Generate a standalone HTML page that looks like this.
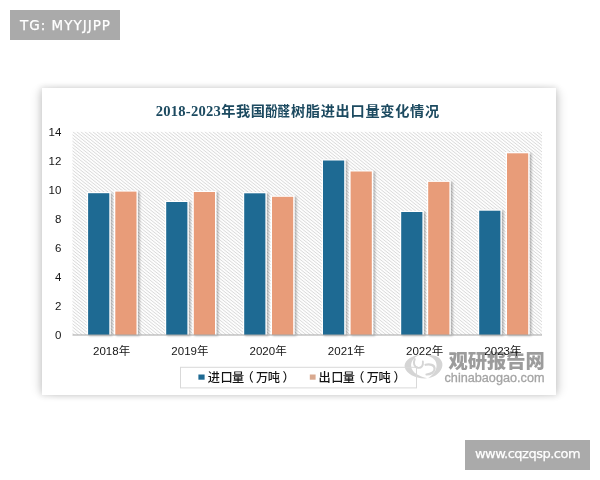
<!DOCTYPE html>
<html lang="zh-CN">
<head>
<meta charset="utf-8">
<title>2018-2023年我国酚醛树脂进出口量变化情况</title>
<style>
html,body{margin:0;padding:0;background:#fff;}
body{width:600px;height:480px;overflow:hidden;position:relative;font-family:"Liberation Sans","Noto Sans CJK SC",sans-serif;}
svg{position:absolute;left:0;top:0;display:block;}
.tag{position:absolute;background:#aaaaaa;color:#fff;font-family:"DejaVu Sans","Liberation Sans",sans-serif;white-space:nowrap;}
#tg{left:10px;top:10px;width:110px;height:30px;line-height:30px;text-align:center;font-size:13.5px;letter-spacing:1px;text-indent:1px;-webkit-text-stroke:0.25px #fff;}
#www{left:465px;top:440px;width:125px;height:30px;line-height:27.5px;text-align:center;font-size:13px;letter-spacing:-0.5px;-webkit-text-stroke:0.25px #fff;}
#card{position:absolute;left:41.5px;top:87.5px;width:514.5px;height:307px;background:#fff;box-shadow:0 0 6px 1px rgba(0,0,0,0.13),-7px 0 9px -3px rgba(0,0,0,0.10),7px 1px 9px -3px rgba(0,0,0,0.11);}
</style>
</head>
<body>
<div class="tag" id="tg">TG: MYYJJPP</div>
<div id="card"></div>
<svg width="600" height="480" viewBox="0 0 600 480">
<defs>
<filter id="sh" x="-30%" y="-10%" width="180%" height="120%">
<feGaussianBlur in="SourceAlpha" stdDeviation="0.9"/>
<feOffset dx="2.4" dy="0.6"/>
<feComponentTransfer><feFuncA type="linear" slope="0.28"/></feComponentTransfer>
<feMerge><feMergeNode/><feMergeNode in="SourceGraphic"/></feMerge>
</filter>
</defs>
<clipPath id="pc"><rect x="72.5" y="131.8" width="469.5" height="203.2"/></clipPath>
<rect x="72.5" y="131.8" width="469.5" height="203.2" fill="#fdfdfd"/>
<path clip-path="url(#pc)" d="M-183.51 131.5L70.50 335M-179.51 131.5L74.50 335M-175.51 131.5L78.50 335M-171.51 131.5L82.50 335M-167.51 131.5L86.50 335M-163.51 131.5L90.50 335M-159.51 131.5L94.50 335M-155.51 131.5L98.50 335M-151.51 131.5L102.50 335M-147.51 131.5L106.50 335M-143.51 131.5L110.50 335M-139.51 131.5L114.50 335M-135.51 131.5L118.50 335M-131.51 131.5L122.50 335M-127.51 131.5L126.50 335M-123.51 131.5L130.50 335M-119.51 131.5L134.50 335M-115.51 131.5L138.50 335M-111.51 131.5L142.50 335M-107.51 131.5L146.50 335M-103.51 131.5L150.50 335M-99.51 131.5L154.50 335M-95.51 131.5L158.50 335M-91.51 131.5L162.50 335M-87.51 131.5L166.50 335M-83.51 131.5L170.50 335M-79.51 131.5L174.50 335M-75.51 131.5L178.50 335M-71.51 131.5L182.50 335M-67.51 131.5L186.50 335M-63.51 131.5L190.50 335M-59.51 131.5L194.50 335M-55.51 131.5L198.50 335M-51.51 131.5L202.50 335M-47.51 131.5L206.50 335M-43.51 131.5L210.50 335M-39.51 131.5L214.50 335M-35.51 131.5L218.50 335M-31.51 131.5L222.50 335M-27.51 131.5L226.50 335M-23.51 131.5L230.50 335M-19.51 131.5L234.50 335M-15.51 131.5L238.50 335M-11.51 131.5L242.50 335M-7.51 131.5L246.50 335M-3.51 131.5L250.50 335M0.49 131.5L254.50 335M4.49 131.5L258.50 335M8.49 131.5L262.50 335M12.49 131.5L266.50 335M16.49 131.5L270.50 335M20.49 131.5L274.50 335M24.49 131.5L278.50 335M28.49 131.5L282.50 335M32.49 131.5L286.50 335M36.49 131.5L290.50 335M40.49 131.5L294.50 335M44.49 131.5L298.50 335M48.49 131.5L302.50 335M52.49 131.5L306.50 335M56.49 131.5L310.50 335M60.49 131.5L314.50 335M64.49 131.5L318.50 335M68.49 131.5L322.50 335M72.49 131.5L326.50 335M76.49 131.5L330.50 335M80.49 131.5L334.50 335M84.49 131.5L338.50 335M88.49 131.5L342.50 335M92.49 131.5L346.50 335M96.49 131.5L350.50 335M100.49 131.5L354.50 335M104.49 131.5L358.50 335M108.49 131.5L362.50 335M112.49 131.5L366.50 335M116.49 131.5L370.50 335M120.49 131.5L374.50 335M124.49 131.5L378.50 335M128.49 131.5L382.50 335M132.49 131.5L386.50 335M136.49 131.5L390.50 335M140.49 131.5L394.50 335M144.49 131.5L398.50 335M148.49 131.5L402.50 335M152.49 131.5L406.50 335M156.49 131.5L410.50 335M160.49 131.5L414.50 335M164.49 131.5L418.50 335M168.49 131.5L422.50 335M172.49 131.5L426.50 335M176.49 131.5L430.50 335M180.49 131.5L434.50 335M184.49 131.5L438.50 335M188.49 131.5L442.50 335M192.49 131.5L446.50 335M196.49 131.5L450.50 335M200.49 131.5L454.50 335M204.49 131.5L458.50 335M208.49 131.5L462.50 335M212.49 131.5L466.50 335M216.49 131.5L470.50 335M220.49 131.5L474.50 335M224.49 131.5L478.50 335M228.49 131.5L482.50 335M232.49 131.5L486.50 335M236.49 131.5L490.50 335M240.49 131.5L494.50 335M244.49 131.5L498.50 335M248.49 131.5L502.50 335M252.49 131.5L506.50 335M256.49 131.5L510.50 335M260.49 131.5L514.50 335M264.49 131.5L518.50 335M268.49 131.5L522.50 335M272.49 131.5L526.50 335M276.49 131.5L530.50 335M280.49 131.5L534.50 335M284.49 131.5L538.50 335M288.49 131.5L542.50 335M292.49 131.5L546.50 335M296.49 131.5L550.50 335M300.49 131.5L554.50 335M304.49 131.5L558.50 335M308.49 131.5L562.50 335M312.49 131.5L566.50 335M316.49 131.5L570.50 335M320.49 131.5L574.50 335M324.49 131.5L578.50 335M328.49 131.5L582.50 335M332.49 131.5L586.50 335M336.49 131.5L590.50 335M340.49 131.5L594.50 335M344.49 131.5L598.50 335M348.49 131.5L602.50 335M352.49 131.5L606.50 335M356.49 131.5L610.50 335M360.49 131.5L614.50 335M364.49 131.5L618.50 335M368.49 131.5L622.50 335M372.49 131.5L626.50 335M376.49 131.5L630.50 335M380.49 131.5L634.50 335M384.49 131.5L638.50 335M388.49 131.5L642.50 335M392.49 131.5L646.50 335M396.49 131.5L650.50 335M400.49 131.5L654.50 335M404.49 131.5L658.50 335M408.49 131.5L662.50 335M412.49 131.5L666.50 335M416.49 131.5L670.50 335M420.49 131.5L674.50 335M424.49 131.5L678.50 335M428.49 131.5L682.50 335M432.49 131.5L686.50 335M436.49 131.5L690.50 335M440.49 131.5L694.50 335M444.49 131.5L698.50 335M448.49 131.5L702.50 335M452.49 131.5L706.50 335M456.49 131.5L710.50 335M460.49 131.5L714.50 335M464.49 131.5L718.50 335M468.49 131.5L722.50 335M472.49 131.5L726.50 335M476.49 131.5L730.50 335M480.49 131.5L734.50 335M484.49 131.5L738.50 335M488.49 131.5L742.50 335M492.49 131.5L746.50 335M496.49 131.5L750.50 335M500.49 131.5L754.50 335M504.49 131.5L758.50 335M508.49 131.5L762.50 335M512.49 131.5L766.50 335M516.49 131.5L770.50 335M520.49 131.5L774.50 335M524.49 131.5L778.50 335M528.49 131.5L782.50 335M532.49 131.5L786.50 335M536.49 131.5L790.50 335M540.49 131.5L794.50 335" fill="none" stroke="#d8d8d8" stroke-width="0.95"/>
<g fill="#d5d5d5">
<path d="M419.5 354.8 C409 356.5 403.5 362 404.8 367.5 C406.5 374 416 379.2 427.5 378.3 C419 376.5 411.8 372.5 411.2 366.5 C410.6 361 414.5 357.3 419.5 354.8Z"/>
<path d="M426.5 355.2 C437 354.3 443 359.5 442.4 365.5 C441.8 371.5 436 376.8 428 378.3 C433 375 436.6 370.5 436.6 365.5 C436.6 360.5 433 357 426.5 355.2Z"/>
</g>
<g fill="none" stroke="#d5d5d5" stroke-linecap="round">
<path d="M414.8 359 C413 363 414 367 418 367.8 C421.5 368.3 423.4 365.5 422.9 361.5" stroke-width="1.9"/>
<path d="M425.5 364.8 C430 363.5 434.5 365 434.6 368.6 C434.7 372 431 374.3 426.5 374.5" stroke-width="2.2"/>
</g>
<text x="448.4" y="368.2" font-size="19.4" font-weight="900" fill="#9c9c9c" font-family="'Liberation Sans','Noto Sans CJK SC',sans-serif" textLength="96.3" lengthAdjust="spacingAndGlyphs">观研报告网</text>
<text x="444.5" y="382" font-size="13" fill="#a4a4a4" stroke="#a4a4a4" stroke-width="0.3" font-family="'Liberation Sans',sans-serif" textLength="100" lengthAdjust="spacingAndGlyphs">chinabaogao.com</text>
<text y="115.6" font-size="14.2" font-weight="bold" fill="#1c4a60" font-family="'Liberation Sans','Noto Sans CJK SC',sans-serif"><tspan x="155.8" y="116" font-size="14.6" font-family="'Liberation Serif',serif" textLength="65" lengthAdjust="spacing">2018-2023</tspan><tspan x="221.2 236 250.8" y="115.6">年我国</tspan><tspan x="265.3" textLength="24.6" lengthAdjust="spacingAndGlyphs">酚醛</tspan><tspan x="290.9 305.8 320.7 335.6 350.5 365.4 380.3 395.2 410.1 425.0">树脂进出口量变化情况</tspan></text>
<text x="61.3" y="339.0" font-size="11.5" text-anchor="end" fill="#151515" font-family="'Liberation Sans',sans-serif">0</text>
<text x="61.3" y="309.9" font-size="11.5" text-anchor="end" fill="#151515" font-family="'Liberation Sans',sans-serif">2</text>
<text x="61.3" y="280.9" font-size="11.5" text-anchor="end" fill="#151515" font-family="'Liberation Sans',sans-serif">4</text>
<text x="61.3" y="251.8" font-size="11.5" text-anchor="end" fill="#151515" font-family="'Liberation Sans',sans-serif">6</text>
<text x="61.3" y="222.7" font-size="11.5" text-anchor="end" fill="#151515" font-family="'Liberation Sans',sans-serif">8</text>
<text x="61.3" y="193.6" font-size="11.5" text-anchor="end" fill="#151515" font-family="'Liberation Sans',sans-serif">10</text>
<text x="61.3" y="164.6" font-size="11.5" text-anchor="end" fill="#151515" font-family="'Liberation Sans',sans-serif">12</text>
<text x="61.3" y="135.5" font-size="11.5" text-anchor="end" fill="#151515" font-family="'Liberation Sans',sans-serif">14</text>
<g filter="url(#sh)" fill="#fff">
<rect x="86.8" y="192.0" width="23.8" height="143.0"/>
<rect x="114.0" y="190.4" width="23.8" height="144.6"/>
<rect x="164.9" y="200.8" width="23.8" height="134.2"/>
<rect x="192.5" y="190.8" width="23.8" height="144.2"/>
<rect x="242.9" y="192.1" width="23.8" height="142.9"/>
<rect x="270.7" y="195.6" width="23.8" height="139.4"/>
<rect x="321.7" y="159.3" width="23.8" height="175.7"/>
<rect x="349.3" y="170.3" width="23.8" height="164.7"/>
<rect x="399.9" y="210.8" width="23.8" height="124.2"/>
<rect x="426.9" y="180.7" width="23.8" height="154.3"/>
<rect x="477.9" y="209.5" width="23.8" height="125.5"/>
<rect x="505.7" y="152.1" width="23.8" height="182.9"/>
</g>
<rect x="88.1" y="193.2" width="21.2" height="141.8" fill="#1e6a93"/>
<rect x="115.3" y="191.6" width="21.2" height="143.4" fill="#e89c79"/>
<rect x="166.2" y="202.0" width="21.2" height="133.0" fill="#1e6a93"/>
<rect x="193.8" y="192.0" width="21.2" height="143.0" fill="#e89c79"/>
<rect x="244.2" y="193.3" width="21.2" height="141.7" fill="#1e6a93"/>
<rect x="272.0" y="196.8" width="21.2" height="138.2" fill="#e89c79"/>
<rect x="323.0" y="160.5" width="21.2" height="174.5" fill="#1e6a93"/>
<rect x="350.6" y="171.5" width="21.2" height="163.5" fill="#e89c79"/>
<rect x="401.2" y="212.0" width="21.2" height="123.0" fill="#1e6a93"/>
<rect x="428.2" y="181.9" width="21.2" height="153.1" fill="#e89c79"/>
<rect x="479.2" y="210.7" width="21.2" height="124.3" fill="#1e6a93"/>
<rect x="507.0" y="153.3" width="21.2" height="181.7" fill="#e89c79"/>
<rect x="72.5" y="334.5" width="469.5" height="1" fill="#a6a6a6"/>
<text x="111.6" y="355.2" font-size="11.5" text-anchor="middle" fill="#151515" font-family="'Liberation Sans','Noto Sans CJK SC',sans-serif">2018年</text>
<text x="189.9" y="355.2" font-size="11.5" text-anchor="middle" fill="#151515" font-family="'Liberation Sans','Noto Sans CJK SC',sans-serif">2019年</text>
<text x="268.1" y="355.2" font-size="11.5" text-anchor="middle" fill="#151515" font-family="'Liberation Sans','Noto Sans CJK SC',sans-serif">2020年</text>
<text x="346.4" y="355.2" font-size="11.5" text-anchor="middle" fill="#151515" font-family="'Liberation Sans','Noto Sans CJK SC',sans-serif">2021年</text>
<text x="424.6" y="355.2" font-size="11.5" text-anchor="middle" fill="#151515" font-family="'Liberation Sans','Noto Sans CJK SC',sans-serif">2022年</text>
<text x="502.9" y="355.2" font-size="11.5" text-anchor="middle" fill="#151515" font-family="'Liberation Sans','Noto Sans CJK SC',sans-serif">2023年</text>
<rect x="180.5" y="367.3" width="236" height="20.6" fill="none" stroke="#d9d9d9" stroke-width="1"/>
<rect x="198.4" y="374.5" width="6.2" height="5.2" fill="#1e6a93"/>
<text x="207.8 220.5 232.0 241.5 256.0 267.7 282.6" y="382" font-size="12.2" font-weight="500" fill="#141414" font-family="'Liberation Sans','Noto Sans CJK SC',sans-serif">进口量（万吨）</text>
<rect x="309.8" y="374.5" width="5.8" height="5.2" fill="#d9a98f"/>
<text x="318.6 331.3 342.8 352.3 366.8 378.5 393.4" y="382" font-size="12.2" font-weight="500" fill="#141414" font-family="'Liberation Sans','Noto Sans CJK SC',sans-serif">出口量（万吨）</text>
</svg>
<div class="tag" id="www">www.cqzqsp.com</div>
</body>
</html>
